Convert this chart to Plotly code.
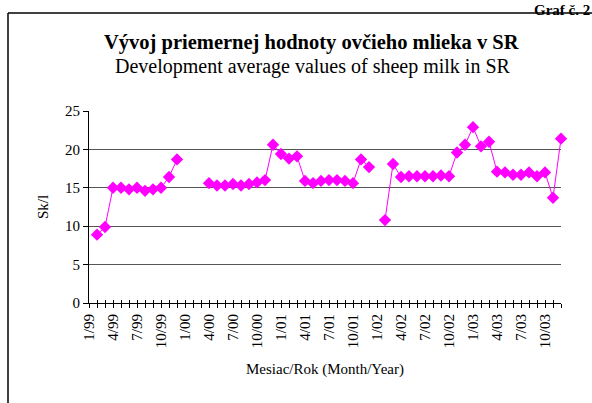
import plotly.graph_objects as go

years = ["99", "00", "01", "02", "03"]
categories = [f"{m}/{y}" for y in years for m in range(1, 13)]

values_1999 = [None, 8.9, 9.9, 15.0, 15.0, 14.8, 15.0, 14.6, 14.8, 15.0, 16.4, 18.7]
values_2000 = [None, None, None, 15.6, 15.3, 15.3, 15.5, 15.3, 15.5, 15.7, 16.0, 20.6]
values_2001 = [19.4, 18.8, 19.1, 15.9, 15.6, 15.9, 16.0, 16.0, 15.9, 15.6, 18.7, 17.7]
values_2002 = [None, 10.8, 18.1, 16.4, 16.5, 16.5, 16.5, 16.5, 16.6, 16.5, 19.6, 20.6]
values_2003 = [22.9, 20.4, 21.0, 17.1, 17.0, 16.7, 16.7, 17.0, 16.5, 17.0, 13.7, 21.4]
values = values_1999 + values_2000 + values_2001 + values_2002 + values_2003

tick_labels = [c if i % 3 == 0 else "" for i, c in enumerate(categories)]

title_text = "<b>Vývoj priemernej hodnoty ovčieho mlieka v SR</b>"
subtitle_text = "Development average values of sheep milk in SR"
corner_text = "<b>Graf č. 2</b>"
x_title = "Mesiac/Rok (Month/Year)"
y_title = "Sk/l"

SERIF = '"Liberation Serif"'
W, H = 592, 403
L, R, T, B = 89, 31, 111, 100
pw, ph = W - L - R, H - T - B

def px_x(x):
    return (x - L) / pw

def px_y(y):
    return (H - B - y) / ph

fig = go.Figure()
fig.add_trace(go.Scatter(
    x=categories, y=values, mode="lines+markers",
    line=dict(color="#FF00FF", width=1),
    marker=dict(symbol="diamond", size=9.5, color="#FF00FF"),
    connectgaps=False, cliponaxis=False, showlegend=False,
))
# invisible trace for the overlay axis (inside ticks)
fig.add_trace(go.Scatter(x=categories, y=[None] * len(categories), xaxis="x2",
                         showlegend=False, hoverinfo="skip"))

fig.update_layout(
    width=W, height=H,
    margin=dict(l=L, r=R, t=T, b=B, autoexpand=False),
    paper_bgcolor="white", plot_bgcolor="white",
    font=dict(family=SERIF, size=15, color="black"),
    xaxis=dict(
        type="category", categoryorder="array", categoryarray=categories,
        range=[0, len(categories) - 1],
        tickmode="array", tickvals=categories, ticktext=tick_labels,
        tickangle=-90, ticks="outside", ticklen=4, tickcolor="black",
        showline=True, linecolor="black", linewidth=1,
        showgrid=False, zeroline=False, automargin=False,
        tickfont=dict(family=SERIF, size=15),
        title=dict(text=x_title, font=dict(family=SERIF, size=15), standoff=16),
    ),
    xaxis2=dict(
        type="category", categoryorder="array", categoryarray=categories,
        range=[0, len(categories) - 1], overlaying="x", anchor="y", side="bottom",
        tickmode="array", tickvals=categories, ticktext=[""] * len(categories),
        ticks="inside", ticklen=3, tickcolor="black", showline=False,
        showgrid=False, zeroline=False, showticklabels=False,
    ),
    yaxis=dict(
        range=[0, 25], dtick=5, tick0=0,
        ticks="outside", ticklen=5, tickcolor="black",
        showline=True, linecolor="black", linewidth=1,
        showgrid=True, gridcolor="#555555", gridwidth=1,
        zeroline=False, automargin=False,
        tickfont=dict(family=SERIF, size=15),
        title=dict(text=y_title, font=dict(family=SERIF, size=15), standoff=12),
    ),
    annotations=[
        dict(text=title_text, x=px_x(311), y=px_y(42), xref="paper", yref="paper",
             showarrow=False, font=dict(family=SERIF, size=20.5), xanchor="center", yanchor="middle"),
        dict(text=subtitle_text, x=px_x(313), y=px_y(66), xref="paper", yref="paper",
             showarrow=False, font=dict(family=SERIF, size=20), xanchor="center", yanchor="middle"),
        dict(text=corner_text, x=px_x(592), y=px_y(0), xref="paper", yref="paper",
             showarrow=False, font=dict(family=SERIF, size=15), xanchor="right", yanchor="top"),
    ],
    shapes=[
        dict(type="line", xref="paper", yref="paper", x0=px_x(8), x1=px_x(600),
             y0=px_y(13), y1=px_y(13), line=dict(color="black", width=1.5)),
        dict(type="line", xref="paper", yref="paper", x0=px_x(8), x1=px_x(8),
             y0=px_y(13), y1=px_y(410), line=dict(color="black", width=1.5)),
    ],
)

fig.write_html("out.html", config={"displayModeBar": False},
               post_script="document.body.style.margin='0px';")
